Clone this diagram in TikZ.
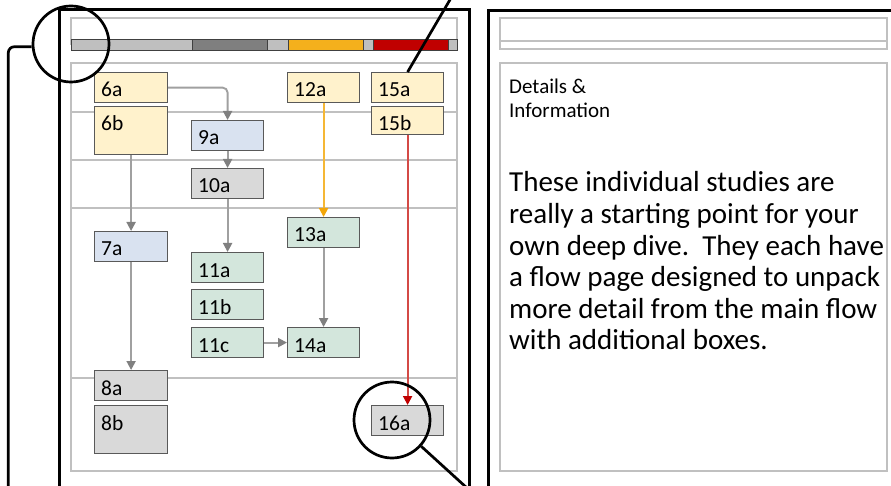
\documentclass[tikz,border=0pt]{standalone}
\usepackage{fontspec}
\setmainfont{Carlito}
\usetikzlibrary{arrows.meta}
\definecolor{gridgrey}{HTML}{C0C0C0}
\definecolor{boxedge}{HTML}{595959}
\definecolor{tanfill}{HTML}{FFF2CC}
\definecolor{bluefill}{HTML}{D9E2F0}
\definecolor{greyfill}{HTML}{D9D9D9}
\definecolor{greenfill}{HTML}{D3E6DC}
\definecolor{arrowgrey}{HTML}{A0A0A0}
\definecolor{arrowtipgrey}{HTML}{808080}
\definecolor{barlight}{HTML}{BFBFBF}
\definecolor{bardark}{HTML}{7F7F7F}
\definecolor{barorange}{HTML}{F4B01C}
\definecolor{barred}{HTML}{C00000}
\definecolor{orangeline}{HTML}{F5B735}
\definecolor{orangetip}{HTML}{F2A60A}
\definecolor{redline}{HTML}{D44A46}
\definecolor{redtip}{HTML}{C00000}
\newcommand\lblfont{\fontsize{21.5}{24}\selectfont}
\begin{document}
\begin{tikzpicture}[x=1pt,y=-1pt,
  frame/.style={draw=black,line width=3pt},
  panel/.style={draw=gridgrey,line width=2pt},
  fbox/.style={draw=boxedge,line width=1.2pt,inner sep=0pt,anchor=north west},
  lbl/.style={font=\lblfont,anchor=base west,inner sep=0pt,xshift=7pt,yshift=-25pt},
  seg/.style={draw=black!75,line width=0.8pt},
  conn/.style={draw=arrowgrey,line width=1.9pt,-{Triangle[length=9pt,width=9pt,color=arrowtipgrey]}},
  oconn/.style={draw=orangeline,line width=1.9pt,-{Triangle[length=9pt,width=9pt,color=orangetip]}},
  rconn/.style={draw=redline,line width=1.9pt,-{Triangle[length=9pt,width=9pt,color=redtip]}},
  callout/.style={draw=black,line width=2.7pt},
  lens/.style={circle,draw=black,line width=2.7pt,minimum size=76pt,inner sep=0pt}]
\fill[white] (0,0) rectangle (891,486);
\useasboundingbox (0,0) rectangle (891,486);

% outer frames
\draw[frame] (59,520) -- (59,10) -- (469,10) -- (469,520);
\draw[frame] (488,520) -- (488,11) -- (900,11);

% left panel
\draw[panel] (71,45) -- (71,18) -- (457,18) -- (457,45);
\draw[panel] (71,63) rectangle (457,471);
\foreach \yy in {112,160,208,378} \draw[panel] (71,\yy) -- (457,\yy);

% colour bar
\draw[seg,fill=barlight] (71,39.5) rectangle (192,50);
\draw[seg,fill=bardark] (192,39.5) rectangle (267,50);
\draw[seg,fill=barlight] (267,39.5) rectangle (288,50);
\draw[seg,fill=barorange] (288,39.5) rectangle (363,50);
\draw[seg,fill=barlight] (363,39.5) rectangle (373,50);
\draw[seg,fill=barred] (373,39.5) rectangle (448,50);
\draw[seg,fill=barlight] (448,39.5) rectangle (457,50);

% right panel
\draw[panel] (500,18) rectangle (887,49);
\draw[panel] (500,41) -- (887,41);
\draw[panel] (500,63) rectangle (887,471);

% boxes
\node[fbox,fill=tanfill,minimum width=73pt,minimum height=30pt,label={[lbl]north west:6a}] (b6a) at (94,72) {};
\node[fbox,fill=tanfill,minimum width=73pt,minimum height=48pt,label={[lbl]north west:6b}] (b6b) at (94,106) {};
\node[fbox,fill=bluefill,minimum width=72pt,minimum height=30pt,label={[lbl]north west:9a}] (b9a) at (191,120) {};
\node[fbox,fill=greyfill,minimum width=72pt,minimum height=30pt,label={[lbl]north west:10a}] (b10a) at (191,168) {};
\node[fbox,fill=tanfill,minimum width=72pt,minimum height=30pt,label={[lbl]north west:12a}] (b12a) at (287,72) {};
\node[fbox,fill=tanfill,minimum width=72pt,minimum height=30pt,label={[lbl]north west:15a}] (b15a) at (371,72) {};
\node[fbox,fill=tanfill,minimum width=72pt,minimum height=28pt,label={[lbl]north west:15b}] (b15b) at (371,106) {};
\node[fbox,fill=bluefill,minimum width=73pt,minimum height=30pt,label={[lbl]north west:7a}] (b7a) at (94,231) {};
\node[fbox,fill=greenfill,minimum width=72pt,minimum height=30pt,label={[lbl]north west:13a}] (b13a) at (287,217) {};
\node[fbox,fill=greenfill,minimum width=72pt,minimum height=30pt,label={[lbl]north west:11a}] (b11a) at (191,252) {};
\node[fbox,fill=greenfill,minimum width=72pt,minimum height=30pt,label={[lbl]north west:11b}] (b11b) at (191,289) {};
\node[fbox,fill=greenfill,minimum width=72pt,minimum height=30pt,label={[lbl]north west:11c}] (b11c) at (191,327) {};
\node[fbox,fill=greenfill,minimum width=72pt,minimum height=30pt,label={[lbl]north west:14a}] (b14a) at (287,327) {};
\node[fbox,fill=greyfill,minimum width=73pt,minimum height=30pt,label={[lbl]north west:8a}] (b8a) at (94,370) {};
\node[fbox,fill=greyfill,minimum width=73pt,minimum height=48pt,label={[lbl]north west:8b}] (b8b) at (94,405) {};
\node[fbox,fill=greyfill,minimum width=72pt,minimum height=30pt,label={[lbl]north west:16a}] (b16a) at (371,405) {};

% connectors
\draw[conn,rounded corners=5pt] (b6a.east) -| (b9a.north);
\draw[conn] (b9a.south) -- (b10a.north);
\draw[conn] (b10a.south) -- (b11a.north);
\draw[conn] (b6b.south) -- (b7a.north);
\draw[conn] (b7a.south) -- (b8a.north);
\draw[oconn] (b12a.south) -- (b13a.north);
\draw[conn] (b13a.south) -- (b14a.north);
\draw[conn] (b11c.east) -- (b14a.west);
\draw[rconn] (b15b.south) -- (b16a.north);

% texts
\node[anchor=base west,inner sep=0pt] (details) at (509,94)
  {\parbox[t]{200pt}{\fontsize{21}{23.3}\selectfont Details \&\\Information}};
\node[anchor=base west,inner sep=0pt] (body) at (509,192)
  {\parbox[t]{400pt}{\fontsize{29}{31.6}\selectfont These individual studies are\\
   really a starting point for your\\
   own deep dive.\ \ They each have\\
   a flow page designed to unpack\\
   more detail from the main flow\\
   with additional boxes.}};

% magnifier circles and callouts
\node[lens] (c1) at (71,44) {};
\node[lens] (c2) at (392,420) {};
\coordinate (l1end) at (8.3,490);
\coordinate (t1end) at (451,-2);
\coordinate (b1end) at (467,488);
\draw[callout,rounded corners=6pt] (c1.184) -| (l1end);
\draw[callout] (b15a.north) -- (t1end);
\draw[callout] (c2.-42) -- (b1end);
\end{tikzpicture}
\end{document}
